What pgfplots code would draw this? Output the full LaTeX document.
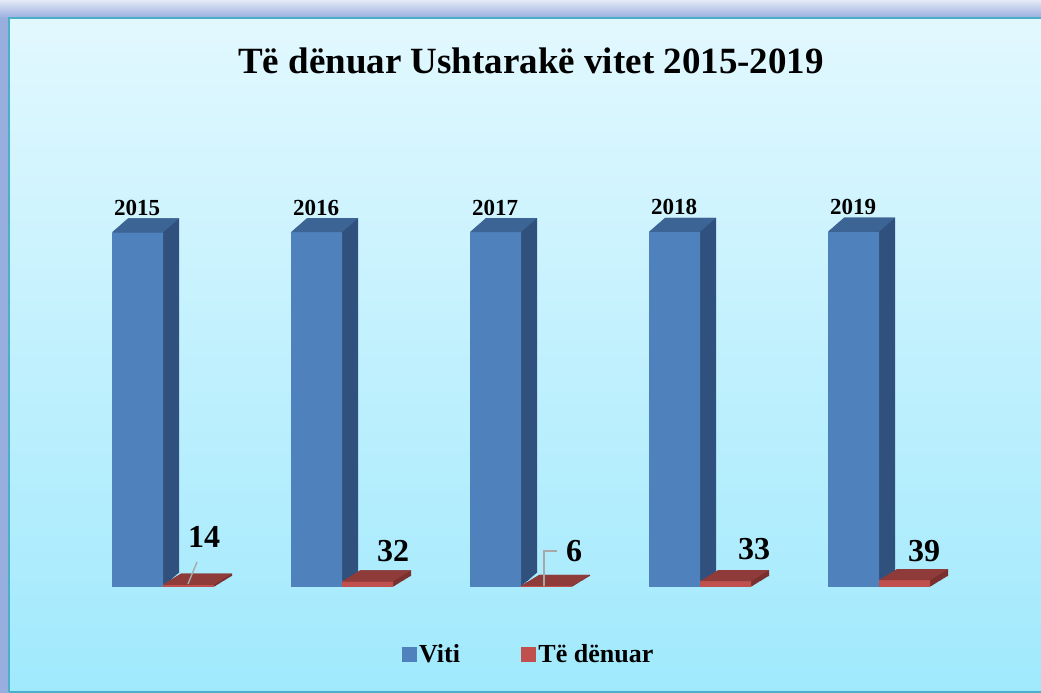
\documentclass[border=0pt]{standalone}
\usepackage{pgfplots}
\pgfplotsset{compat=1.18}
\usepackage{pgfplotstable}
\usepackage{fontspec}
\setmainfont{Liberation Serif}
\definecolor{bluefront}{HTML}{4F81BD}
\definecolor{blueside}{HTML}{30517E}
\definecolor{bluetop}{HTML}{3C6595}
\definecolor{redfront}{HTML}{C0504D}
\definecolor{redside}{HTML}{7A302E}
\definecolor{redtop}{HTML}{8F3B39}
\definecolor{bgtop}{HTML}{E2F8FE}
\definecolor{bgbot}{HTML}{A0E9FD}
\definecolor{frameline}{HTML}{4AAFC8}
\definecolor{shadowc}{HTML}{98AEDF}
\definecolor{shadowtop}{HTML}{E4EAF6}
\definecolor{leader}{HTML}{A8A8A8}

\pgfdeclareplotmark{bluetopmark}{%
  \pgfpathmoveto{\pgfpoint{-51pt}{0pt}}%
  \pgfpathlineto{\pgfpoint{0pt}{0pt}}%
  \pgfpathlineto{\pgfpoint{16pt}{14pt}}%
  \pgfpathlineto{\pgfpoint{-35pt}{14pt}}%
  \pgfpathclose\pgfusepathqfill}
\pgfdeclareplotmark{redtopmark}{%
  \pgfpathmoveto{\pgfpoint{0pt}{0pt}}%
  \pgfpathlineto{\pgfpoint{51pt}{0pt}}%
  \pgfpathlineto{\pgfpoint{69pt}{11pt}}%
  \pgfpathlineto{\pgfpoint{18pt}{11pt}}%
  \pgfpathclose\pgfusepathqfill}

\pgfplotstableread{
x y label
0 2015 2015
1 2016 2016
2 2017 2017
3 2018 2018
4 2019 2019
}\bluedata
\pgfplotstableread{
x y label lx ly
0 14 14 41 37
1 32 32 51 20
2 6 6 53 24
3 33 33 54 22
4 39 39 45 19
}\reddata

\begin{document}
\begin{tikzpicture}[x=1pt,y=1pt]
\useasboundingbox (0,0) rectangle (1041,693);
\fill[shadowc] (0,0) rectangle (1041,693);
\shade[top color=shadowtop, bottom color=shadowc] (0,675) rectangle (1041,693);
\shade[top color=bgtop, bottom color=bgbot] (9,0) rectangle (1041,675);
\draw[frameline, line width=2pt] (9,1) -- (9,675) -- (1042,675);
\draw[frameline, line width=1.5pt] (9,0.75) -- (1041,0.75);
\node[anchor=base, font=\fontsize{37}{44}\selectfont\bfseries] at (531,619) {Të dënuar Ushtarakë vitet 2015-2019};
\begin{axis}[
  at={(73.5pt,106pt)}, anchor=south west,
  width=895pt, height=387.2pt, scale only axis,
  xmin=-0.5, xmax=4.5, ymin=0, ymax=2200,
  axis lines=none, clip=false,
  legend style={at={(0.509,-0.173)}, anchor=center, draw=none, fill=none,
    legend columns=2, font=\fontsize{26}{30}\selectfont\bfseries,
    /tikz/every even column/.append style={column sep=58pt},
    nodes={inner sep=3pt}},
  legend cell align=left,
]
% blue side/depth
\pgfplotsinvokeforeach{1,...,16}{
  \addplot[forget plot, ybar, bar width=51pt, bar shift=-25.5pt, fill=blueside, draw=none,
    xshift=#1pt, yshift={#1*0.875pt}] table[x=x,y=y] {\bluedata};
}
\addplot[forget plot, only marks, mark=bluetopmark, fill=bluetop, draw=none] table[x=x,y=y] {\bluedata};
\addplot[forget plot, ybar, bar width=51pt, bar shift=-25.5pt, fill=bluefront, draw=none,
  point meta=explicit symbolic, nodes near coords,
  nodes near coords style={font=\fontsize{23}{26}\selectfont\bfseries, anchor=base, xshift=-26pt, yshift=17pt, text=black}]
  table[x=x,y=y,meta=label] {\bluedata};
% red
\pgfplotsinvokeforeach{1,...,18}{
  \addplot[forget plot, ybar, bar width=51pt, bar shift=25.5pt, fill=redside, draw=none,
    xshift=#1pt, yshift={#1*0.611pt}] table[x=x,y=y] {\reddata};
}
\addplot[forget plot, only marks, mark=redtopmark, fill=redtop, draw=none] table[x=x,y=y] {\reddata};
\addplot[forget plot, ybar, bar width=51pt, bar shift=25.5pt, fill=redfront, draw=none,
  point meta=explicit symbolic, nodes near coords,
  visualization depends on={\thisrow{lx} \as \lx},
  visualization depends on={\thisrow{ly} \as \ly},
  nodes near coords style={font=\fontsize{32}{36}\selectfont\bfseries, anchor=base, xshift=\lx pt, yshift=\ly pt, text=black}]
  table[x=x,y=y,meta=label] {\reddata};
\addlegendimage{legend image code/.code={\fill[bluefront] (0pt,-7pt) rectangle (14pt,7pt);}}
\addlegendentry{Viti}
\addlegendimage{legend image code/.code={\fill[redfront] (0pt,-7pt) rectangle (14pt,7pt);}}
\addlegendentry{Të dënuar}
\end{axis}
\draw[leader, line width=1.4pt] (188,109) -- (197,131);
\draw[leader, line width=1.4pt] (544,107) -- (544,142) -- (557,142);
\end{tikzpicture}
\end{document}
